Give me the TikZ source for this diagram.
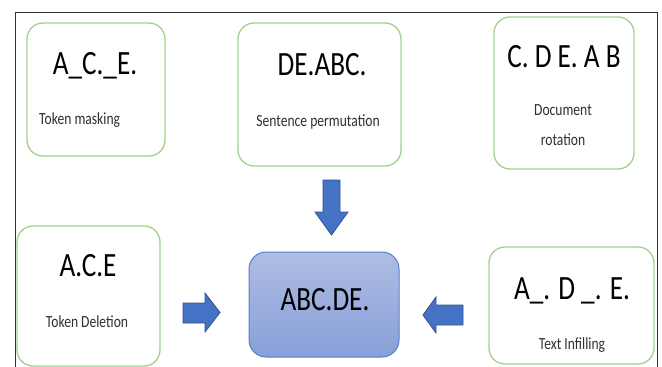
\documentclass[tikz,border=0pt]{standalone}
\usepackage{fontspec}
\newfontfamily\cf[FakeStretch=0.8]{Carlito}
\definecolor{boxgreen}{HTML}{A3D18A}
\definecolor{arrfill}{HTML}{4472C4}
\definecolor{arrline}{HTML}{2F528F}
\definecolor{ctop}{HTML}{AEBDE3}
\definecolor{cbot}{HTML}{889FD8}
\definecolor{cline}{HTML}{5B7FCB}
\definecolor{smalltxt}{HTML}{303030}
\tikzset{
  gbox/.style={draw=boxgreen, line width=1.3pt, rounded corners=16pt, fill=white, inner sep=0pt},
  bigtxt/.style={font=\cf\fontsize{34}{38}\selectfont, text=black, anchor=base, inner sep=0pt},
  smtxt/.style={font=\cf\fontsize{17}{20}\selectfont, text=smalltxt, anchor=base, inner sep=0pt},
  blockarrow/.style={fill=arrfill, draw=arrline, line width=0.8pt, line join=miter}
}
\begin{document}
\begin{tikzpicture}[x=1pt,y=-1pt]
\useasboundingbox (0,0) rectangle (662,367);
\fill[white] (0,0) rectangle (662,367);
% frame
\draw[line width=1pt, draw=black!80] (15,367) -- (15,12) -- (657,12) -- (657,367);
% boxes
\node[gbox, minimum width=138pt, minimum height=133pt] (b1) at (96,89.5) {};
\node[gbox, minimum width=163pt, minimum height=143pt] (b2) at (319.5,94.5) {};
\node[gbox, minimum width=140pt, minimum height=152pt] (b3) at (564,93) {};
\node[gbox, minimum width=143pt, minimum height=140pt] (b4) at (88.5,296) {};
\node[draw=cline, line width=1pt, rounded corners=17pt, top color=ctop, bottom color=cbot, inner sep=0pt, minimum width=150pt, minimum height=105pt] (b5) at (324,304.5) {};
\node[gbox, minimum width=165pt, minimum height=117pt] (b6) at (571.5,305.5) {};
% texts
\node[bigtxt] (t1) at (95,74) {A\_C.\_E.};
\node[smtxt, anchor=base west] (s1) at (39,124) {Token masking};
\node[bigtxt] (t2) at (322,75) {DE.ABC.};
\node[smtxt] (s2) at (318,126) {Sentence permutation};
\node[bigtxt] (t3) at (564,67) {C. D E. A B};
\node[smtxt] (s3a) at (563,115) {Document};
\node[smtxt] (s3b) at (563,145) {rotation};
\node[bigtxt] (t4) at (88,276) {A.C.E};
\node[smtxt] (s4) at (87,327) {Token Deletion};
\node[bigtxt] (t5) at (325,310) {ABC.DE.};
\node[bigtxt] (t6) at (572,299) {A\_. D \_. E.};
\node[smtxt] (s6) at (572,349) {Text Infilling};
% block arrows
\draw[blockarrow] (323,180) -- (340,180) -- (340,212) -- (348,212) -- (331.5,235) -- (315,212) -- (323,212) -- cycle;
\draw[blockarrow] (183,303) -- (205,303) -- (205,293) -- (220,312.5) -- (205,332) -- (205,323) -- (183,323) -- cycle;
\draw[blockarrow] (463,305) -- (436,305) -- (436,297) -- (423,315) -- (436,333) -- (436,325) -- (463,325) -- cycle;
\end{tikzpicture}
\end{document}
